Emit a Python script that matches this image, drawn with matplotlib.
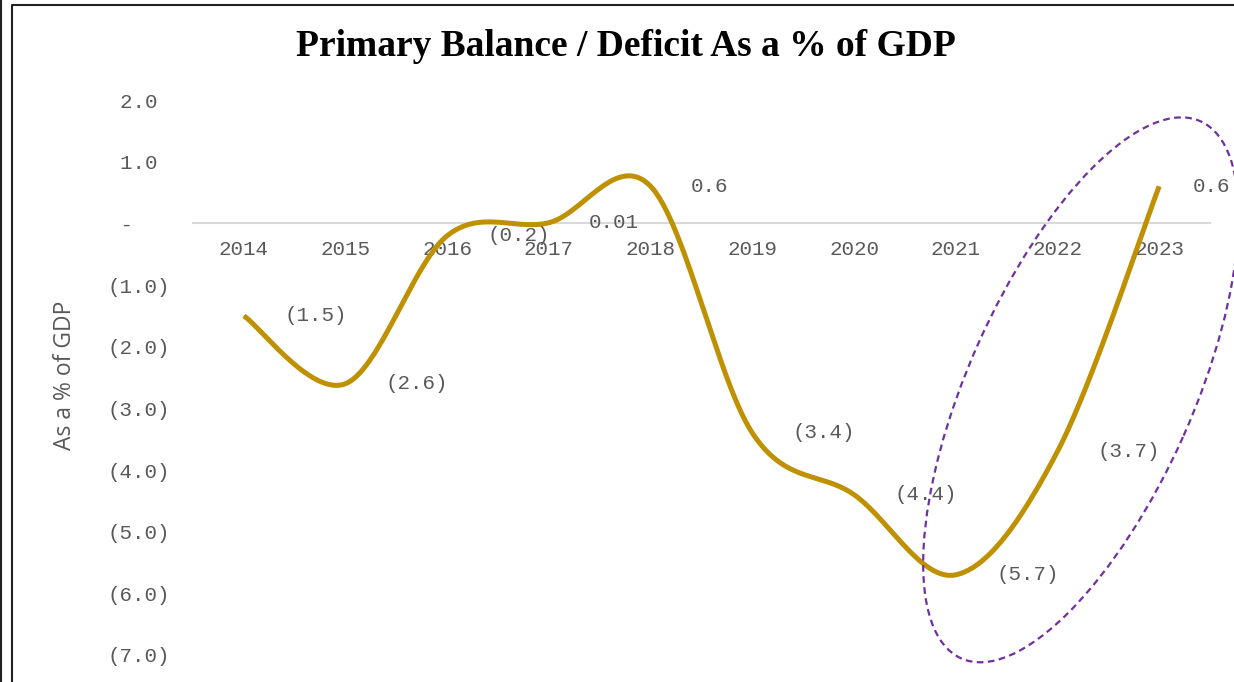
import numpy as np
import matplotlib.pyplot as plt
from matplotlib.patches import Ellipse
from matplotlib.lines import Line2D
from matplotlib.transforms import IdentityTransform

# data
years = ['2014', '2015', '2016', '2017', '2018', '2019', '2020', '2021', '2022', '2023']
balance = [-1.5, -2.6, -0.2, 0.01, 0.6, -3.4, -4.4, -5.7, -3.7, 0.6]
y_ticks = [2, 1, 0, -1, -2, -3, -4, -5, -6, -7]

gold = '#BF9000'
grey = '#595959'
purple = '#7030A0'
mono = 'Liberation Mono'


def axis_fmt(v):
    # excel style: (1.0) for negatives, - for zero
    if v == 0:
        return ' -   '
    if v < 0:
        return '(%.1f)' % abs(v)
    return '%.1f ' % v


def label_fmt(v):
    s = '%.2f' % abs(v) if abs(v) < 0.1 else '%.1f' % abs(v)
    return '(%s)' % s if v < 0 else s


def smooth(xs, ys, n=60):
    # bezier smoothing like excel's "smoothed line"
    px = np.concatenate([[xs[0]], xs, [xs[-1]]]).astype(float)
    py = np.concatenate([[ys[0]], ys, [ys[-1]]]).astype(float)
    t = np.linspace(0, 1, n)
    ox, oy = [], []
    for i in range(len(xs) - 1):
        p0 = np.array([px[i], py[i]])
        p1 = np.array([px[i + 1], py[i + 1]])
        p2 = np.array([px[i + 2], py[i + 2]])
        p3 = np.array([px[i + 3], py[i + 3]])
        c1 = p1 + (p2 - p0) / 6
        c2 = p2 - (p3 - p1) / 6
        b = ((1 - t) ** 3)[:, None] * p1 + (3 * (1 - t) ** 2 * t)[:, None] * c1 \
            + (3 * (1 - t) * t ** 2)[:, None] * c2 + (t ** 3)[:, None] * p2
        ox.extend(b[:, 0])
        oy.extend(b[:, 1])
    return np.array(ox), np.array(oy)


fig = plt.figure(figsize=(12.34, 6.82), dpi=100)
ax = fig.add_axes([193 / 1234, 27 / 682, 1017 / 1234, 555 / 682])

for s in ['top', 'right', 'left']:
    ax.spines[s].set_visible(False)
ax.spines['bottom'].set_position(('data', 0))
ax.spines['bottom'].set_color('#D9D9D9')
ax.spines['bottom'].set_linewidth(1.5)

x = np.arange(len(years))
sx, sy = smooth(x, balance)
ax.plot(sx, sy, color=gold, lw=3.6, solid_capstyle='butt', zorder=3)

labels = []
for xi, v in zip(x, balance):
    t = ax.annotate(label_fmt(v), (xi, v), xytext=(29, 0), textcoords='offset points',
                    ha='left', va='center', fontsize=15, family=mono, color=grey,
                    annotation_clip=False)
    labels.append(t)

ax.set_xlim(-0.5, len(years) - 0.5)
ax.set_ylim(-7, 2)
ax.set_xticks(x)
ax.set_xticklabels(years, family=mono, fontsize=15, color=grey)
ax.set_yticks(y_ticks)
ax.set_yticklabels([axis_fmt(v) for v in y_ticks], family=mono, fontsize=15, color=grey)
ax.tick_params(axis='both', length=0)
ax.tick_params(axis='y', pad=16.5)
ax.tick_params(axis='x', pad=12)

# keep data labels inside the chart area, like excel does
r = fig.canvas.get_renderer()
for t in labels:
    over = t.get_window_extent(r).x1 - 1230
    if over > 0:
        t.set_position((29 - over * 72 / fig.dpi, 0))

fig.text(626 / 1234, 1 - 47 / 682, 'Primary Balance / Deficit As a % of GDP',
         ha='center', va='center', fontsize=27, fontweight='bold',
         family='Liberation Serif', color='black')
fig.text(65 / 1234, 1 - 375 / 682, 'As a % of GDP', rotation=90, ha='center',
         va='center', fontsize=16.5, family='Open Sans', color=grey)

# dashed ring around 2021-2023
cx, cy = ax.transData.transform((8.23, -2.7))
ring = Ellipse((cx, cy), width=588, height=225, angle=66, fill=False,
               edgecolor=purple, lw=1.6, linestyle=(0, (3, 2)),
               transform=IdentityTransform())
fig.add_artist(ring)

# chart frame
fig.add_artist(Line2D([12, 12, 1240], [-5, 677, 677], color='#222222', lw=1.5,
                      transform=IdentityTransform()))
fig.add_artist(Line2D([1, 1], [-5, 690], color='#222222', lw=1.5,
                      transform=IdentityTransform()))

fig.savefig('out.png', dpi=100)
